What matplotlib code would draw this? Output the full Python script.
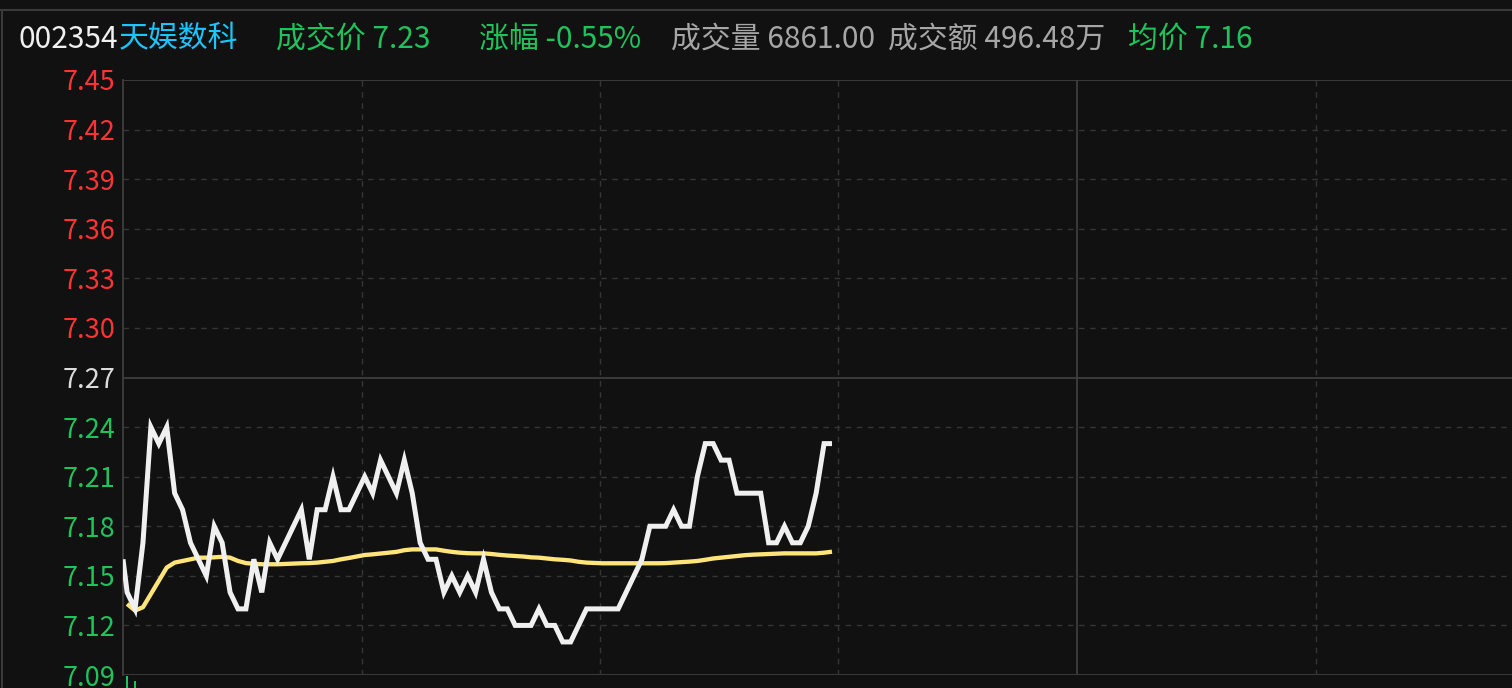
import numpy as np
import matplotlib
matplotlib.use("Agg")
import matplotlib.pyplot as plt
from matplotlib.lines import Line2D

plt.rcParams['font.family'] = ['Noto Sans CJK SC', 'DejaVu Sans']

# ---------------- data ----------------
stock_code = "002354"
stock_name = "天娱数科"
last_price_label = "成交价 7.23"
change_label = "涨幅 -0.55%"
volume_label = "成交量 6861.00"
amount_label = "成交额 496.48万"
avg_label = "均价 7.16"

prev_close = 7.27
open_price = 7.16
price = [7.14, 7.13, 7.17, 7.24, 7.23, 7.24, 7.20, 7.19, 7.17, 7.16,
         7.15, 7.18, 7.17, 7.14, 7.13, 7.13, 7.16, 7.14, 7.17, 7.16,
         7.17, 7.18, 7.19, 7.16, 7.19, 7.19, 7.21, 7.19, 7.19, 7.20,
         7.21, 7.20, 7.22, 7.21, 7.20, 7.22, 7.20, 7.17, 7.16, 7.16,
         7.14, 7.15, 7.14, 7.15, 7.14, 7.16, 7.14, 7.13, 7.13, 7.12,
         7.12, 7.12, 7.13, 7.12, 7.12, 7.11, 7.11, 7.12, 7.13, 7.13,
         7.13, 7.13, 7.13, 7.14, 7.15, 7.16, 7.18, 7.18, 7.18, 7.19,
         7.18, 7.18, 7.21, 7.23, 7.23, 7.22, 7.22, 7.20, 7.20, 7.20,
         7.20, 7.17, 7.17, 7.18, 7.17, 7.17, 7.18, 7.20, 7.23, 7.23]
avg_price = [7.133, 7.129, 7.131, 7.139, 7.147, 7.155, 7.158, 7.159, 7.160, 7.161,
             7.161, 7.1612, 7.1615, 7.161, 7.159, 7.1577, 7.1573, 7.157, 7.157, 7.157,
             7.1572, 7.1574, 7.1576, 7.1577, 7.158, 7.1585, 7.159, 7.160, 7.1608, 7.1617,
             7.1626, 7.163, 7.1635, 7.164, 7.1645, 7.1655, 7.166, 7.166, 7.166, 7.166,
             7.1652, 7.1645, 7.164, 7.1637, 7.1636, 7.1636, 7.1632, 7.1627, 7.1623, 7.162,
             7.1617, 7.1612, 7.161, 7.1605, 7.160, 7.1597, 7.1593, 7.1585, 7.158, 7.1578,
             7.1576, 7.1576, 7.1576, 7.1576, 7.1576, 7.1576, 7.1576, 7.1576, 7.1577, 7.158,
             7.1583, 7.1586, 7.159, 7.1597, 7.1605, 7.161, 7.1615, 7.162, 7.1625, 7.1628,
             7.163, 7.1632, 7.1634, 7.1636, 7.1636, 7.1636, 7.1636, 7.1636, 7.164, 7.1646]
volume = [1.0, 0.6]

y_ticks = [7.09, 7.12, 7.15, 7.18, 7.21, 7.24, 7.27, 7.30, 7.33, 7.36, 7.39, 7.42, 7.45]
time_grid = [29.66, 59.7, 89.76, 119.94, 150.1]   # 10:00 10:30 11:00 11:30/13:00 13:30
time_grid_solid = [False, False, False, True, False]
x_range = (-0.52, 174.86)

# ---------------- style ----------------
BG = '#111111'
GRID = '#353535'
SOLID = '#3e3e3e'
RED = '#ff3333'
GREEN = '#1fc35b'
WHITE = '#f0f0f0'
YELLOW = '#ffe47a'
CYAN = '#19c6ff'
GRAY = '#a6a6a6'

W, H = 1512, 688
fig = plt.figure(figsize=(W / 100, H / 100), dpi=100, facecolor=BG)
ax = fig.add_axes([123 / W, 13 / H, 1389 / W, 595 / H])
ax.set_facecolor(BG)
ax.set_xlim(*x_range)
ax.set_ylim(y_ticks[0], y_ticks[-1])

for v in y_ticks:
    if v in (y_ticks[0], prev_close, y_ticks[-1]):
        ax.axhline(v, color=SOLID, lw=1.3, zorder=1)
    else:
        ax.axhline(v, color=GRID, lw=1.0, ls=(0, (4, 4)), zorder=1)
for xg, solid in zip(time_grid, time_grid_solid):
    if solid:
        ax.axvline(xg, color=SOLID, lw=1.3, zorder=1)
    else:
        ax.axvline(xg, color=GRID, lw=1.0, ls=(0, (4, 4)), zorder=1)

for s in ['right', 'top', 'bottom']:
    ax.spines[s].set_visible(False)
ax.spines['left'].set_color(SOLID)
ax.spines['left'].set_linewidth(1.3)

ax.set_yticks(y_ticks)
ax.set_yticklabels([f"{v:.2f}" for v in y_ticks])
ax.tick_params(axis='y', length=0, pad=5.5, labelsize=19.5)
for lab, v in zip(ax.get_yticklabels(), y_ticks):
    if abs(v - prev_close) < 1e-9:
        lab.set_color('#dcdcdc')
    elif v > prev_close:
        lab.set_color(RED)
    else:
        lab.set_color(GREEN)
ax.set_xticks([])

idx = np.arange(len(price))
px = np.concatenate([[x_range[0]], idx])
py = np.concatenate([[open_price], price])
ax.plot(idx, avg_price, color=YELLOW, lw=3.1, solid_joinstyle='round',
        solid_capstyle='butt', zorder=3)
ax.plot(px, py, color=WHITE, lw=3.6, solid_joinstyle='miter',
        solid_capstyle='butt', zorder=4)

# small volume bars at the bottom edge
vax = fig.add_axes([123 / W, 0, 1389 / W, 12 / H])
vax.set_facecolor('none')
vax.set_xlim(*x_range)
vax.set_ylim(0, 1)
vax.bar(np.arange(len(volume)), volume, width=0.18, color=GREEN)
vax.axis('off')

# frame lines
fig.add_artist(Line2D([0, 1], [1 - 10 / H, 1 - 10 / H], color='#3a3a3a', lw=1.5))
fig.add_artist(Line2D([2 / W, 2 / W], [0, 1 - 10 / H], color='#3a3a3a', lw=1.5))

# header
ty = 1 - 39 / H
fs = 21.5
fig.text(18 / W, ty, stock_code, color=WHITE, fontsize=fs, va='center')
fig.text(119 / W, ty, stock_name, color=CYAN, fontsize=fs, va='center')
fig.text(276 / W, ty, last_price_label, color=GREEN, fontsize=fs, va='center')
fig.text(479 / W, ty, change_label, color=GREEN, fontsize=fs, va='center')
fig.text(671 / W, ty, volume_label, color=GRAY, fontsize=fs, va='center')
fig.text(888 / W, ty, amount_label, color=GRAY, fontsize=fs, va='center')
fig.text(1128 / W, ty, avg_label, color=GREEN, fontsize=fs, va='center')

fig.savefig('out.png', dpi=100, facecolor=BG)
